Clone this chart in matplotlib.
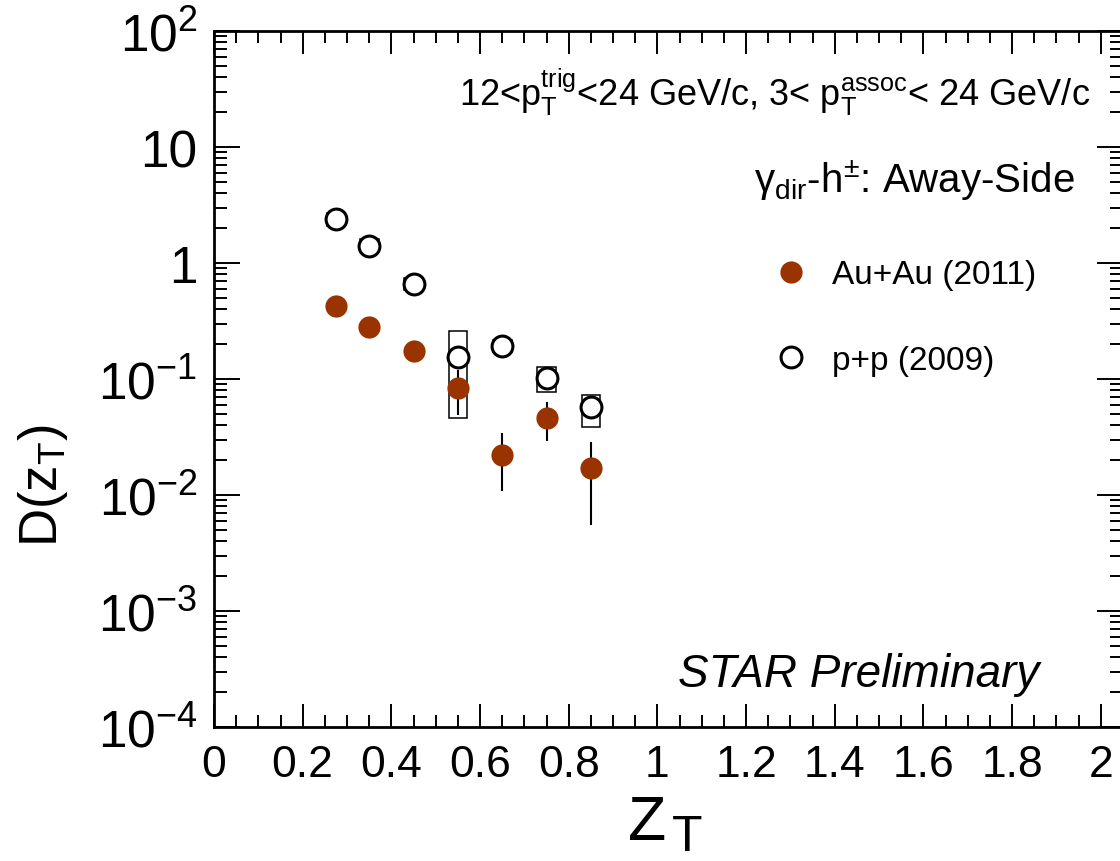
import numpy as np
import matplotlib
matplotlib.use("Agg")
import matplotlib.pyplot as plt
from matplotlib.patches import Rectangle
from matplotlib.ticker import FixedLocator, FixedFormatter, LogLocator, MultipleLocator

plt.rcParams['font.family'] = ['Liberation Sans', 'DejaVu Sans']
plt.rcParams['mathtext.fontset'] = 'custom'
plt.rcParams['mathtext.rm'] = 'Liberation Sans'
plt.rcParams['mathtext.it'] = 'Liberation Sans:italic'
plt.rcParams['mathtext.default'] = 'regular'

# z_T bin centres
zt = [0.275, 0.35, 0.45, 0.55, 0.65, 0.75, 0.85]

# Au+Au (2011): values and stat error bounds
auau = [0.426, 0.282, 0.173, 0.0832, 0.0222, 0.0461, 0.0170]
auau_lo = [0.39, 0.26, 0.16, 0.049, 0.0108, 0.0290, 0.0055]
auau_hi = [0.46, 0.30, 0.186, 0.120, 0.0342, 0.0637, 0.0288]

# p+p (2009): values, stat bounds and systematic box bounds
pp = [2.38, 1.41, 0.655, 0.154, 0.191, 0.102, 0.057]
pp_lo = [2.28, 1.35, 0.63, 0.145, 0.182, 0.097, 0.052]
pp_hi = [2.48, 1.47, 0.68, 0.163, 0.200, 0.107, 0.062]
pp_sys_lo = [2.1, 1.25, 0.58, 0.0458, 0.17, 0.0768, 0.0388]
pp_sys_hi = [2.7, 1.6, 0.74, 0.2608, 0.215, 0.1276, 0.0732]

ytick_vals = [1e-4, 1e-3, 1e-2, 1e-1, 1, 10, 100]
ytick_text = [r'$10^{-4}$', r'$10^{-3}$', r'$10^{-2}$', r'$10^{-1}$', '1', '10', r'$10^{2}$']
xtick_vals = [0, 0.2, 0.4, 0.6, 0.8, 1.0, 1.2, 1.4, 1.6, 1.8, 2.0]
xtick_text = ['0', '0.2', '0.4', '0.6', '0.8', '1', '1.2', '1.4', '1.6', '1.8', '2']

aa_color = '#993300'


def main():
    fig = plt.figure(figsize=(11.2, 8.62), dpi=100)
    ax = fig.add_axes([214 / 1120, 134 / 862, 909 / 1120, 696 / 862])
    ax.set_yscale('log')
    ax.set_xlim(0, 2.05)
    ax.set_ylim(1e-4, 1e2)

    # systematic boxes for p+p
    for x, lo, hi in zip(zt, pp_sys_lo, pp_sys_hi):
        ax.add_patch(Rectangle((x - 0.021, lo), 0.042, hi - lo, fill=False,
                               edgecolor='black', linewidth=1.1, zorder=2))

    auau_arr = np.array(auau)
    aa = ax.errorbar(zt, auau, yerr=[auau_arr - np.array(auau_lo), np.array(auau_hi) - auau_arr],
                     fmt='o', color=aa_color, ecolor='black', elinewidth=1.5, capsize=0,
                     markersize=16, markeredgewidth=0, zorder=3)
    pp_arr = np.array(pp)
    ppc = ax.errorbar(zt, pp, yerr=[pp_arr - np.array(pp_lo), np.array(pp_hi) - pp_arr],
                      fmt='o', markerfacecolor='white', markeredgecolor='black',
                      markeredgewidth=2.2, ecolor='black', elinewidth=1.5, capsize=0,
                      markersize=15, zorder=4)

    # axis styling
    for sp in ax.spines.values():
        sp.set_linewidth(2)
    ax.xaxis.set_major_locator(FixedLocator(xtick_vals))
    ax.xaxis.set_major_formatter(FixedFormatter(xtick_text))
    ax.xaxis.set_minor_locator(MultipleLocator(0.05))
    ax.yaxis.set_major_locator(FixedLocator(ytick_vals))
    ax.yaxis.set_major_formatter(FixedFormatter(ytick_text))
    ax.yaxis.set_minor_locator(LogLocator(base=10, subs=np.arange(2, 10)))
    ax.yaxis.set_minor_formatter(FixedFormatter([]))
    ax.tick_params(which='both', direction='in', top=True, right=True, width=1.4)
    ax.tick_params(axis='x', which='major', length=16.5, labelsize=32, pad=12)
    ax.tick_params(axis='x', which='minor', length=8.5)
    ax.tick_params(axis='y', which='major', length=18.5, labelsize=37, pad=12)
    ax.tick_params(axis='y', which='minor', length=9.5)

    # axis titles
    fig.text(16 / 1120, 376 / 862, r'D(z$_{T}$)', rotation=90, fontsize=38,
             ha='left', va='center')
    fig.text(628 / 1120, (862 - 840) / 862, 'Z', fontsize=45, ha='left', va='baseline')
    fig.text(672 / 1120, (862 - 851) / 862, 'T', fontsize=36, ha='left', va='baseline')

    # annotations
    ax.text(0.9637, 0.8937,
            r'12<p$_{T}^{trig}$<24 GeV/c, 3< p$_{T}^{assoc}$< 24 GeV/c',
            transform=ax.transAxes, fontsize=26, ha='right', va='baseline')
    ax.text(0.947, 0.7687, r'γ$_{dir}$-h$^{±}$: Away-Side',
            transform=ax.transAxes, fontsize=29, ha='right', va='baseline')
    ax.text(0.5105, 0.0589, 'STAR Preliminary', style='italic',
            transform=ax.transAxes, fontsize=33, ha='left', va='baseline')

    ax.legend([aa[0], ppc[0]], ['Au+Au (2011)', 'p+p (2009)'], loc='upper left',
              bbox_to_anchor=(0.6164, 0.672),
              frameon=False, fontsize=24, numpoints=1, handlelength=1.0,
              handletextpad=0.73, borderpad=0, borderaxespad=0, labelspacing=1.64)

    fig.savefig('out.png', dpi=100)


if __name__ == '__main__':
    main()
